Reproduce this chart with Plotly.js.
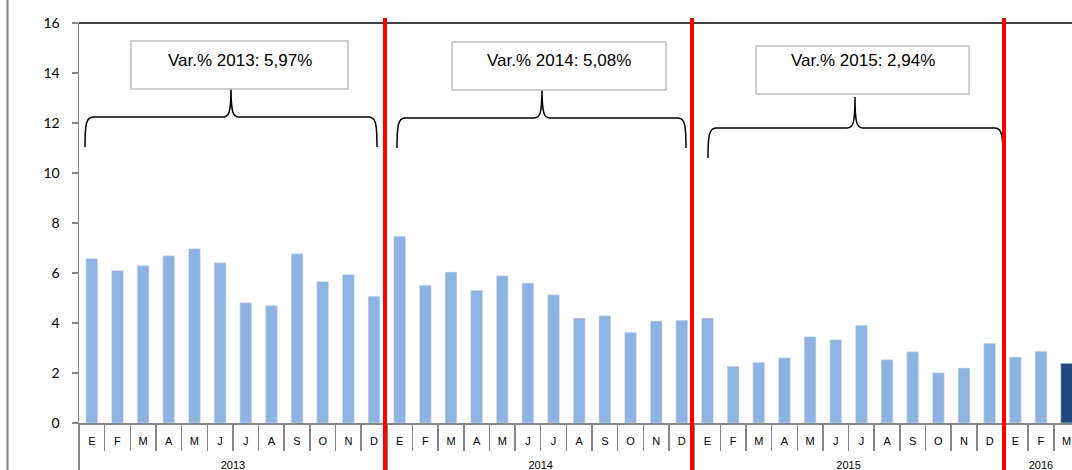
<!DOCTYPE html>
<html>
<head>
<meta charset="utf-8">
<script src="https://cdn.plot.ly/plotly-3.0.1.min.js"></script>
<style>html,body{margin:0;padding:0;background:#fff;}#chart{width:1072px;height:470px;}</style>
</head>
<body>
<div id="chart"></div>
<script>
// ---- data ----
const years = ['2013','2014','2015','2016'];
const monthLetters = ['E','F','M','A','M','J','J','A','S','O','N','D'];
const values2013 = [6.58, 6.10, 6.30, 6.69, 6.97, 6.41, 4.81, 4.70, 6.77, 5.66, 5.94, 5.07];
const values2014 = [7.47, 5.51, 6.04, 5.31, 5.89, 5.60, 5.13, 4.20, 4.29, 3.63, 4.08, 4.11];
const values2015 = [4.20, 2.27, 2.43, 2.61, 3.45, 3.33, 3.91, 2.53, 2.85, 2.01, 2.20, 3.19];
const values2016 = [2.64, 2.87, 2.39];
const varLabels = ['Var.% 2013: 5,97%', 'Var.% 2014: 5,08%', 'Var.% 2015: 2,94%'];

const series = [values2013, values2014, values2015, values2016];
const xIds = [], xText = [], yVals = [];
const yearCenters = [], yearBounds = [];
let idx = 0;
series.forEach((vals, yi) => {
  yearBounds.push(idx - 0.5);
  yearCenters.push(idx + (vals.length - 1) / 2);
  vals.forEach((v, mi) => {
    xIds.push(years[yi] + '-' + (mi + 1));
    xText.push(monthLetters[mi]);
    yVals.push(v);
    idx++;
  });
});
const colors = yVals.map((v, i) => i === yVals.length - 1 ? '#1F497D' : '#8DB3E2');

// ---- geometry helpers (pixel -> paper) ----
const W = 1072, H = 470, L = 79, T = 23, B = 47;
const PW = W - L, PH = H - T - B;
const px = p => (p - L) / PW;
const py = p => (H - B - p) / PH;
const XR = [-0.5, 38.21];

function bracePath(xl, xr, xc, yBar, yBot, yTip) {
  const P = (x, y) => px(x).toFixed(5) + ',' + py(y).toFixed(5);
  return 'M' + P(xl, yBot) +
    ' C' + P(xl, yBar + 8) + ' ' + P(xl + 1, yBar) + ' ' + P(xl + 8, yBar) +
    ' L' + P(xc - 8, yBar) +
    ' C' + P(xc - 2, yBar) + ' ' + P(xc, yBar - 4) + ' ' + P(xc, yTip) +
    ' C' + P(xc, yBar - 4) + ' ' + P(xc + 2, yBar) + ' ' + P(xc + 8, yBar) +
    ' L' + P(xr - 8, yBar) +
    ' C' + P(xr - 1, yBar) + ' ' + P(xr, yBar + 8) + ' ' + P(xr, yBot);
}

const braces = [
  [85, 377, 231, 117, 147, 87],
  [397, 686, 542, 118, 148, 87],
  [708, 1003, 855, 128, 158, 97]
];
const boxes = [
  [131, 348, 41, 89],
  [452, 666, 42, 90],
  [756, 969, 46, 94]
];
const redLines = [385, 692, 1004];

const shapes = [];
shapes.push({type:'line', xref:'paper', yref:'paper', x0:px(7.5), x1:px(7.5), y0:py(0), y1:py(470),
  line:{color:'#7f7f7f', width:2}});
shapes.push({type:'line', xref:'paper', yref:'paper', x0:0, x1:1, y0:1, y1:1,
  line:{color:'#000000', width:1.5}});
braces.forEach(b => shapes.push({type:'path', xref:'paper', yref:'paper',
  path: bracePath(...b), line:{color:'#000', width:1.5}}));
boxes.forEach(b => shapes.push({type:'rect', xref:'paper', yref:'paper',
  x0:px(b[0]), x1:px(b[1]), y0:py(b[3]), y1:py(b[2]),
  line:{color:'#bfbfbf', width:1.5}, fillcolor:'#ffffff'}));
redLines.forEach(x => shapes.push({type:'line', xref:'paper', yref:'paper',
  x0:px(x), x1:px(x), y0:py(470), y1:py(18),
  line:{color:'#ff0000', width:4}}));

const annotations = boxes.map((b, i) => ({
  xref:'paper', yref:'paper', x:px((b[0] + b[1]) / 2), y:py(61),
  xanchor:'center', yanchor:'middle', showarrow:false, text: varLabels[i],
  font:{family:'"Liberation Sans Narrow", "Arial Narrow", "Liberation Sans", Arial, sans-serif', size:17, color:'#000'}
}));

const labelFont = {family:'"Liberation Sans", Arial, sans-serif', size:11, color:'#000'};

const trace = {
  type:'bar',
  x:xIds,
  y:yVals,
  marker:{color:colors, line:{color:'#dbe5f1', width:0.6}},
  width:0.46,
  hoverinfo:'y'
};
// carrier trace so the year-level axis (x2) is drawn; it has no visible marks
const yearAxisTrace = {
  type:'scatter', mode:'markers', xaxis:'x2', yaxis:'y',
  x:yearCenters, y:yearCenters.map(() => null),
  hoverinfo:'skip', showlegend:false
};

const layout = {
  width:W, height:H,
  margin:{l:L, r:0, t:T, b:B},
  paper_bgcolor:'#fff', plot_bgcolor:'#fff',
  showlegend:false,
  xaxis:{
    type:'category',
    range:XR,
    tickmode:'array', tickvals:xIds, ticktext:xText,
    showline:true, linecolor:'#868686', linewidth:1.5,
    ticks:'outside', tickson:'boundaries', ticklen:26, tickcolor:'#868686', tickwidth:1.5,
    ticklabelstandoff:7,
    tickfont:labelFont,
    showgrid:false, zeroline:false
  },
  xaxis2:{
    type:'linear',
    overlaying:'x', anchor:'y', side:'bottom',
    range:XR, autorange:false,
    tickmode:'array', tickvals:yearCenters, ticktext:years,
    ticks:'', showline:false, showgrid:false, zeroline:false,
    ticklabelstandoff:34,
    tickfont:labelFont,
    minor:{tickmode:'array', tickvals:yearBounds, ticks:'outside', ticklen:48, tickcolor:'#868686', tickwidth:1.5, showgrid:false}
  },
  yaxis:{
    range:[0,16], dtick:2, tick0:0,
    showline:true, linecolor:'#868686', linewidth:1.5,
    ticks:'outside', ticklen:6, tickcolor:'#868686', tickwidth:1.5,
    ticklabelstandoff:9,
    tickfont:{family:'Lato, "Open Sans", sans-serif', size:14, color:'#000'},
    showgrid:false, zeroline:false
  },
  shapes:shapes,
  annotations:annotations
};

Plotly.newPlot('chart', [trace, yearAxisTrace], layout, {displayModeBar:false, staticPlot:true});
</script>
</body>
</html>
